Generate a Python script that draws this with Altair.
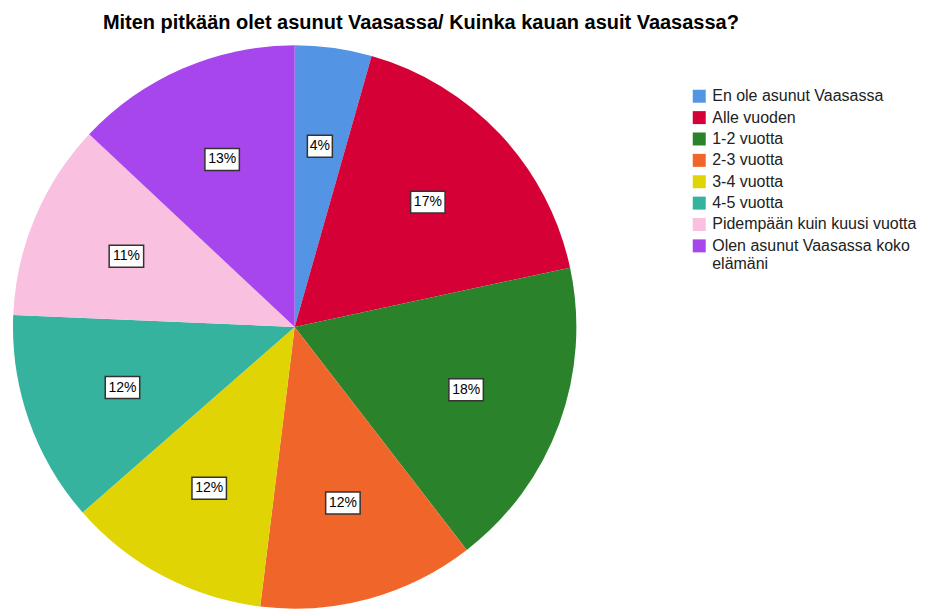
import altair as alt
import pandas as pd

categories = [
    "En ole asunut Vaasassa",
    "Alle vuoden",
    "1-2 vuotta",
    "2-3 vuotta",
    "3-4 vuotta",
    "4-5 vuotta",
    "Pidempään kuin kuusi vuotta",
    "Olen asunut Vaasassa koko elämäni",
]
values = [4.4, 17.2, 17.9, 12.4, 11.6, 12.1, 11.3, 13.0]
colors = ["#5394e4", "#d50036", "#2a822b", "#f06529", "#e0d404", "#35b39e", "#f9c0e0", "#a846ee"]

df = pd.DataFrame({"category": categories, "value": values, "idx": list(range(len(values)))})

R = 282
base = alt.Chart(df)

legend = alt.Legend(
    title=None,
    orient="none",
    legendX=679,
    legendY=43,
    symbolType="square",
    symbolSize=169,
    symbolStrokeWidth=0,
    labelFont="Liberation Sans",
    labelFontSize=16,
    labelColor="#222",
    labelOffset=5,
    rowPadding=5.4,
    padding=0,
    labelLimit=400,
    labelExpr="datum.label == 'Olen asunut Vaasassa koko elämäni' ? ['Olen asunut Vaasassa koko', 'elämäni'] : datum.label",
)

pie = base.mark_arc().encode(
    theta=alt.Theta("value:Q", stack=True),
    color=alt.Color("category:N", scale=alt.Scale(domain=categories, range=colors), legend=legend),
    order=alt.Order("idx:Q"),
)

xs = alt.Scale(domain=[-1, 1], nice=False, zero=False)
ys = alt.Scale(domain=[-1, 1], nice=False, zero=False)

lab = (
    base.transform_joinaggregate(total="sum(value)")
    .transform_window(cum="sum(value)", sort=[alt.SortField("idx")], frame=[None, 0])
    .transform_calculate(
        mid="(datum.cum - datum.value/2)/datum.total*2*PI",
        lx="0.648*sin(datum.mid)",
        ly="0.648*cos(datum.mid)",
        pct="round(datum.value/datum.total*100) + '%'",
    )
    .transform_calculate(
        hw="(length(datum.pct)*9.5+6)/2/%d" % R,
        hh="11/%d" % R,
    )
    .transform_calculate(
        bx1="datum.lx - datum.hw",
        bx2="datum.lx + datum.hw",
        by1="datum.ly - datum.hh",
        by2="datum.ly + datum.hh",
    )
)

boxes = lab.mark_rect(fill="white", stroke="#333", strokeWidth=1.5).encode(
    x=alt.X("bx1:Q", scale=xs, axis=None),
    x2="bx2:Q",
    y=alt.Y("by1:Q", scale=ys, axis=None),
    y2="by2:Q",
)

texts = lab.mark_text(font="Liberation Sans", fontSize=14, color="black").encode(
    x=alt.X("lx:Q", scale=xs, axis=None),
    y=alt.Y("ly:Q", scale=ys, axis=None),
    text="pct:N",
)

chart = (
    alt.layer(pie, boxes, texts)
    .properties(
        width=2 * R,
        height=2 * R,
        padding={"left": 5, "top": 5, "right": 0, "bottom": 0},
        title=alt.Title(
            "Miten pitkään olet asunut Vaasassa/ Kuinka kauan asuit Vaasassa?",
            font="Liberation Sans",
            fontSize=20,
            fontWeight="bold",
            color="black",
            anchor="start",
            dx=90,
            offset=12,
        ),
    )
    .configure_view(stroke=None)
)

chart.save("out.html", embed_options={"renderer": "svg", "actions": False})
